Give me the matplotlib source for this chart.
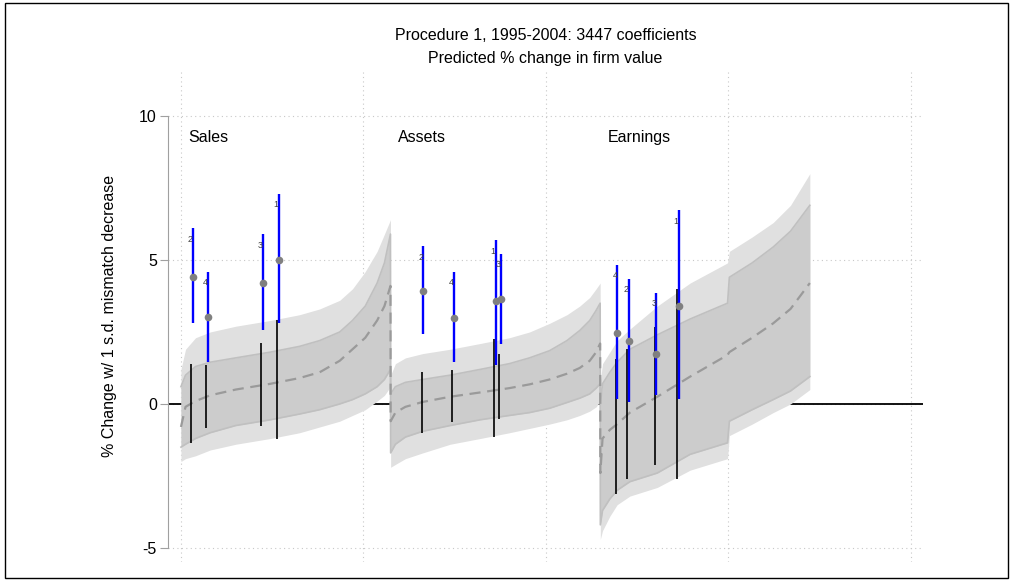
import matplotlib.pyplot as plt
from matplotlib.patches import Rectangle

plt.rcParams['font.family'] = ['Liberation Sans', 'DejaVu Sans']
plt.rcParams['axes.unicode_minus'] = False

# sorted coefficients, three blocks of 1149 (Sales, Assets, Earnings)
band_idx = [0, 25, 80, 160, 300, 490, 650, 760, 870, 940, 1010, 1075, 1115, 1148,
            1149, 1175, 1230, 1325, 1475, 1640, 1800, 1910, 2020, 2115, 2185, 2240, 2275, 2297,
            2298, 2310, 2350, 2390, 2460, 2610, 2790, 2995, 3005, 3130, 3245, 3340, 3446]
band_hi = [0.6, 1.0, 1.3, 1.45, 1.6, 1.8, 2.0, 2.2, 2.5, 2.9, 3.4, 4.2, 4.9, 5.9,
           0.35, 0.6, 0.75, 0.85, 1.0, 1.2, 1.4, 1.6, 1.85, 2.2, 2.55, 2.9, 3.25, 3.5,
           0.0, 0.7, 1.1, 1.45, 1.9, 2.4, 2.95, 3.5, 4.4, 4.9, 5.45, 6.0, 6.9]
band_lo = [-1.5, -1.4, -1.2, -1.0, -0.75, -0.55, -0.35, -0.2, 0.0, 0.15, 0.35, 0.6, 0.85, 1.2,
           -1.7, -1.4, -1.15, -0.95, -0.75, -0.55, -0.4, -0.3, -0.15, 0.05, 0.2, 0.35, 0.55, 0.7,
           -4.2, -3.7, -3.3, -3.0, -2.7, -2.4, -1.75, -1.35, -0.6, -0.2, 0.15, 0.45, 0.95]
spike_hi = [1.2, 1.9, 2.3, 2.5, 2.7, 2.9, 3.1, 3.3, 3.6, 4.0, 4.6, 5.3, 5.9, 6.4,
            1.0, 1.4, 1.6, 1.75, 1.9, 2.1, 2.3, 2.5, 2.8, 3.1, 3.4, 3.7, 4.0, 4.2,
            0.8, 1.4, 1.8, 2.2, 2.6, 3.4, 4.2, 4.9, 5.3, 5.8, 6.3, 6.9, 8.0]
spike_lo = [-2.0, -1.9, -1.8, -1.6, -1.4, -1.2, -1.0, -0.8, -0.6, -0.4, -0.2, 0.1, 0.3, 0.6,
            -2.2, -2.1, -1.9, -1.7, -1.4, -1.2, -1.0, -0.85, -0.7, -0.55, -0.4, -0.25, -0.1, 0.1,
            -4.7, -4.4, -3.9, -3.5, -3.2, -2.9, -2.3, -1.9, -1.1, -0.7, -0.3, 0.0, 0.5]
band_est = [-0.8, -0.1, 0.1, 0.3, 0.5, 0.7, 0.9, 1.1, 1.5, 1.9, 2.3, 2.9, 3.4, 4.1,
            -0.6, -0.3, -0.1, 0.07, 0.25, 0.4, 0.55, 0.68, 0.85, 1.05, 1.25, 1.5, 1.8, 2.1,
            -2.4, -1.2, -0.9, -0.7, -0.3, 0.25, 0.95, 1.7, 1.8, 2.3, 2.8, 3.3, 4.2]

group_names = ["Sales", "Assets", "Earnings"]
group_start = [0, 1149, 2298]

# highlighted specifications
spec_idx = [55, 137, 438, 526, 1320, 1485, 1715, 1742, 2382, 2444, 2596, 2718]
spec_label = ['2', '4', '3', '1', '2', '4', '1', '3', '4', '2', '3', '1']
ci_lo = [-1.36, -0.84, -0.77, -1.22, -1.01, -0.63, -1.15, -0.52, -3.13, -2.61, -2.12, -2.61]
ci_hi = [1.39, 1.36, 2.13, 2.92, 1.11, 1.18, 2.26, 1.74, 1.57, 1.92, 2.68, 4.0]
alt_lo = [2.82, 1.46, 2.58, 2.82, 2.44, 1.46, 1.36, 2.09, 0.17, 0.07, 0.31, 0.17]
alt_hi = [6.1, 4.6, 5.89, 7.3, 5.47, 4.6, 5.68, 5.22, 4.84, 4.35, 3.87, 6.72]
alt_est = [4.42, 3.03, 4.2, 5.0, 3.94, 3.0, 3.59, 3.66, 2.47, 2.19, 1.74, 3.41]

blue_shift = 9

fig = plt.figure(figsize=(10.13, 5.83), dpi=100)
ax = fig.add_axes([168 / 1013, 1 - 562 / 583, 755 / 1013, 492 / 583])

ax.axhline(0, color="black", lw=1.3, zorder=1)

ax.fill_between(band_idx, spike_lo, spike_hi, color="#e0e0e0", lw=0, zorder=2)
ax.fill_between(band_idx, band_lo, band_hi, color="#cccccc", lw=0, zorder=3)
ax.plot(band_idx, band_hi, color="#c0c0c0", lw=1.2, zorder=3)
ax.plot(band_idx, band_lo, color="#c0c0c0", lw=1.2, zorder=3)
ax.plot(band_idx, band_est, color="#9a9a9a", lw=1.6, dashes=[5, 3], zorder=4)

for i in range(len(spec_idx)):
    x = spec_idx[i]
    ax.vlines(x, ci_lo[i], ci_hi[i], color="black", lw=1.2, zorder=5)
    ax.vlines(x + blue_shift, alt_lo[i], alt_hi[i], color="#0000ff", lw=1.7, zorder=6)
    ax.plot(x + blue_shift, alt_est[i], "o", color="#808080", ms=5.5, mec="none", zorder=7)
    ax.text(x - 4, alt_hi[i] - 0.38, spec_label[i], fontsize=6.5, color="#404040",
            ha="center", va="center", zorder=8)

for name, start in zip(group_names, group_start):
    ax.text(start + 38, 9.27, name, fontsize=11.5, ha="left", va="center")

ax.set_xlim(-71, 4066)
ax.set_ylim(-5.49, 11.6)
ax.set_yticks([-5, 0, 5, 10])
ax.set_xticks([0, 1000, 2000, 3000, 4000])
ax.tick_params(axis="x", length=0, labelbottom=False)
ax.tick_params(axis="y", length=6, color="#a0a0a0", labelsize=11.5, pad=2)
ax.grid(True, color="#c8c8c8", lw=0.8, linestyle=(0, (1, 3)))
ax.set_axisbelow(True)
for s in ["top", "right", "bottom"]:
    ax.spines[s].set_visible(False)
ax.spines["left"].set_bounds(-5, 10)
ax.spines["left"].set_color("#a0a0a0")

ax.set_ylabel("% Change w/ 1 s.d. mismatch decrease", fontsize=11.5)
ax.yaxis.set_label_coords(-0.0675, 0.5)

fig.text(545.5 / 1013, 1 - 35 / 583, "Procedure 1, 1995-2004: 3447 coefficients",
         fontsize=11.5, ha="center", va="center")
fig.text(545.5 / 1013, 1 - 58 / 583, "Predicted % change in firm value",
         fontsize=11.5, ha="center", va="center")

fig.patches.append(Rectangle((5 / 1013, 1 - 578 / 583), 1003 / 1013, 575 / 583,
                             transform=fig.transFigure, fill=False, ec="black", lw=1))

fig.savefig("out.png", dpi=100)
